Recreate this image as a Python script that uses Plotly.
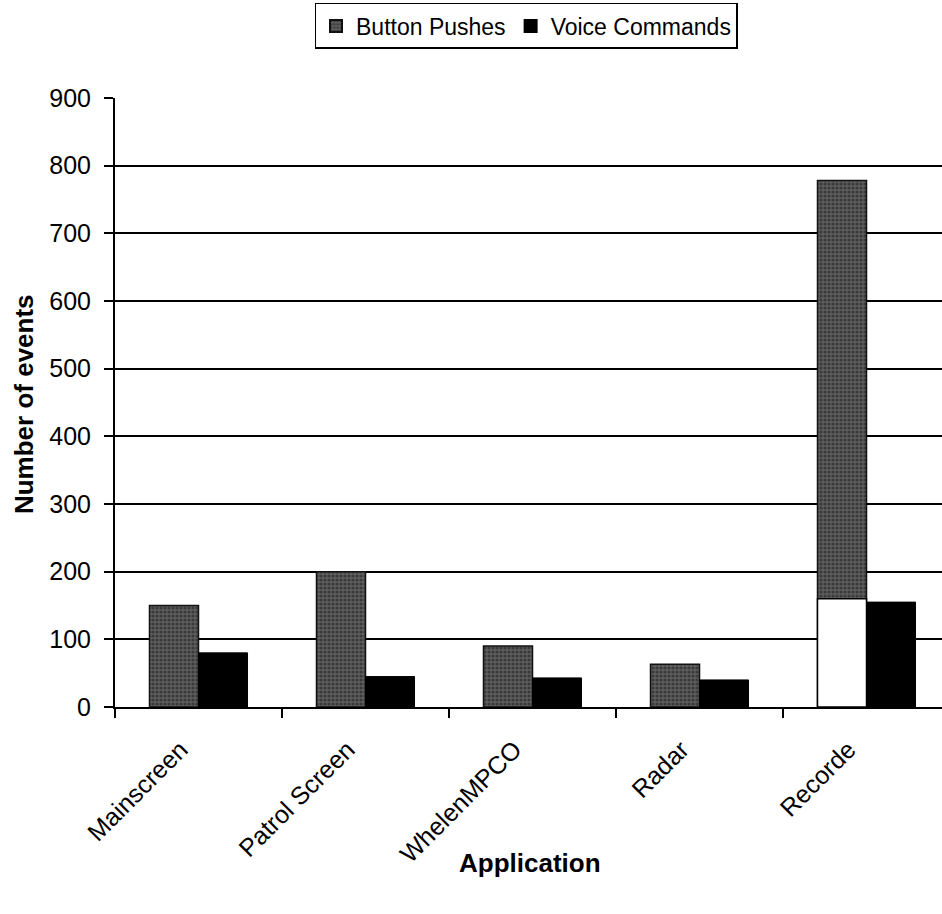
import plotly.graph_objects as go

applications = ["Mainscreen", "Patrol Screen", "WhelenMPCO", "Radar", "Recorde"]
button_pushes = [150, 200, 90, 63, 778]
voice_commands = [80, 45, 43, 40, 155]
# lower portion of the Recorde button-push bar that prints blank
recorder_blank = [None, None, None, None, 160]
y_ticks = [0, 100, 200, 300, 400, 500, 600, 700, 800, 900]

FONT = "Liberation Sans, Arial, sans-serif"

fig = go.Figure()
fig.add_trace(go.Bar(
    name="Button Pushes", x=applications, y=button_pushes, offsetgroup="bp",
    marker=dict(color="#555555", line=dict(color="#111", width=1.5),
                pattern=dict(shape=".", bgcolor="#5e5e5e", fgcolor="#161616",
                             size=4, solidity=0.5)),
))
fig.add_trace(go.Bar(
    name="Voice Commands", x=applications, y=voice_commands, offsetgroup="vc",
    marker=dict(color="#000000", line=dict(color="#000", width=1)),
))
fig.add_trace(go.Bar(
    name="", x=applications, y=recorder_blank, offsetgroup="bp",
    marker=dict(color="#ffffff", line=dict(color="#000", width=1.5)),
    showlegend=False, hoverinfo="skip",
))

fig.update_layout(
    width=942, height=914,
    margin=dict(l=115, r=0, t=98, b=207, autoexpand=False),
    paper_bgcolor="white", plot_bgcolor="white",
    barmode="group", bargap=0.413, bargroupgap=0,
    font=dict(family=FONT, size=24, color="#000"),
    showlegend=True,
    legend=dict(orientation="h", x=0.497, xanchor="center", y=1.156, yanchor="top",
                bordercolor="#000", borderwidth=1.5, bgcolor="white",
                font=dict(size=23), itemwidth=30, tracegroupgap=0,
                itemsizing="constant"),
    annotations=[
        dict(text="<b>Application</b>", xref="paper", yref="paper",
             x=0.502, y=-0.256, xanchor="center", yanchor="middle",
             showarrow=False, font=dict(size=26)),
        dict(text="<b>Number of events</b>", xref="paper", yref="paper",
             x=-0.11, y=0.4975, xanchor="center", yanchor="middle",
             textangle=-90, showarrow=False, font=dict(size=26)),
    ],
)
fig.update_xaxes(
    range=[-0.5, 4.452], tickson="boundaries",
    ticks="outside", ticklen=9, tickwidth=2, tickcolor="#000",
    tickangle=-45, tickfont=dict(size=25),
    ticklabelstandoff=16, ticklabelshift=-18,
    showline=True, linecolor="#000", linewidth=2,
    showgrid=False,
)
fig.update_yaxes(
    range=[0, 900], tickvals=y_ticks,
    ticks="outside", ticklen=9, tickwidth=2, tickcolor="#000",
    tickfont=dict(size=25), ticklabelstandoff=8,
    showline=True, linecolor="#000", linewidth=2,
    showgrid=True, gridcolor="#000", gridwidth=2,
    zeroline=False,
)

fig.write_html("out.html")
